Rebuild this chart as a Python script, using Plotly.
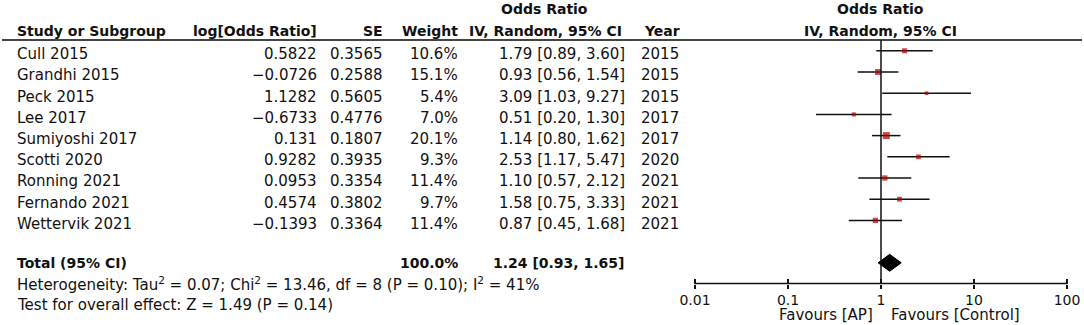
import plotly.graph_objects as go
import numpy as np

studies = ["Cull 2015", "Grandhi 2015", "Peck 2015", "Lee 2017", "Sumiyoshi 2017",
           "Scotti 2020", "Ronning 2021", "Fernando 2021", "Wettervik 2021"]
log_or = ["0.5822", "−0.0726", "1.1282", "−0.6733", "0.131", "0.9282", "0.0953", "0.4574", "−0.1393"]
se = ["0.3565", "0.2588", "0.5605", "0.4776", "0.1807", "0.3935", "0.3354", "0.3802", "0.3364"]
weight = [10.6, 15.1, 5.4, 7.0, 20.1, 9.3, 11.4, 9.7, 11.4]
odds = [1.79, 0.93, 3.09, 0.51, 1.14, 2.53, 1.10, 1.58, 0.87]
ci_lo = [0.89, 0.56, 1.03, 0.20, 0.80, 1.17, 0.57, 0.75, 0.45]
ci_hi = [3.60, 1.54, 9.27, 1.30, 1.62, 5.47, 2.12, 3.33, 1.68]
years = [2015, 2015, 2015, 2017, 2017, 2020, 2021, 2021, 2021]
total_or, total_lo, total_hi = 1.24, 0.93, 1.65
total_weight = "100.0%"
tick_vals = [0.01, 0.1, 1, 10, 100]
tick_text = ["0.01", "0.1", "1", "10", "100"]

W, H = 1084, 325
ROW0, DY = 50.8, 21.2          # pixel centre of first row, row spacing
def row_of(px):
    return (px - ROW0) / DY
# horizontal log scale: 0.01 sits at pixel 695, 93 px per decade
X001_PX, PX_DEC = 695, 93
def xval_of(px):
    return 10 ** (-2 + (px - X001_PX) / PX_DEC)
XRANGE = [-2 - X001_PX / PX_DEC, -2 + (W - X001_PX) / PX_DEC]

TOTAL_ROW = 10
TXT_OFF = 0.16                 # study-row text sits slightly below its CI line
FONT = "DejaVu Sans"
FS = 15
FSB = 14
TXT = "#111111"
RULE_PX = 40
AXIS_PX = 283.5

rows = list(range(len(studies)))

fig = go.Figure()

# header rule
fig.add_trace(go.Scatter(x=[xval_of(2), xval_of(1082)], y=[row_of(RULE_PX)] * 2, mode="lines",
                         line=dict(color="#444444", width=2), hoverinfo="skip", showlegend=False))
# forest-plot axis line (0.01 .. 100)
fig.add_trace(go.Scatter(x=[tick_vals[0], tick_vals[-1]], y=[row_of(AXIS_PX)] * 2, mode="lines",
                         line=dict(color="#111111", width=1.5), hoverinfo="skip", showlegend=False))
# CI lines
lx, ly = [], []
for r, lo, hi in zip(rows, ci_lo, ci_hi):
    lx += [lo, hi, None]
    ly += [r, r, None]
fig.add_trace(go.Scatter(x=lx, y=ly, mode="lines", line=dict(color="#111111", width=1.5),
                         hoverinfo="skip", showlegend=False))
# study squares
fig.add_trace(go.Scatter(x=odds, y=rows, mode="markers",
                         marker=dict(symbol="square", color="#b00000",
                                     size=[1.56 * np.sqrt(w) for w in weight], line=dict(width=0)),
                         showlegend=False))
# diamond
hh = 0.40
fig.add_trace(go.Scatter(x=[total_lo, total_or, total_hi, total_or, total_lo],
                         y=[TOTAL_ROW, TOTAL_ROW - hh, TOTAL_ROW, TOTAL_ROW + hh, TOTAL_ROW],
                         mode="lines", fill="toself", fillcolor="#000000",
                         line=dict(color="#000000", width=1), showlegend=False))
# invisible anchor for the overlay axis (inside ticks)
fig.add_trace(go.Scatter(x=[1], y=[0], xaxis="x2", mode="markers",
                         marker=dict(opacity=0), showlegend=False, hoverinfo="skip"))

axis_pos = 1 - AXIS_PX / H
common_x = dict(type="log", range=XRANGE, domain=[0, 1], anchor="free", position=axis_pos,
                showgrid=False, zeroline=False, showline=False,
                tickvals=tick_vals, tickcolor="#111111", tickwidth=1.5, automargin=False)
fig.update_layout(
    width=W, height=H, margin=dict(l=0, r=0, t=0, b=0, autoexpand=False),
    paper_bgcolor="white", plot_bgcolor="rgba(0,0,0,0)",
    font=dict(family=FONT, size=FS, color=TXT),
    xaxis=dict(**common_x, ticks="outside", ticklen=4, ticktext=tick_text,
               tickfont=dict(family=FONT, size=14, color=TXT)),
    xaxis2=dict(**common_x, overlaying="x", ticks="inside", ticklen=5, showticklabels=False),
    yaxis=dict(domain=[0, 1], range=[row_of(H), row_of(0)], visible=False, automargin=False),
    showlegend=False,
)

# vertical line of no effect
fig.add_shape(type="line", xref="x", yref="y", x0=1, x1=1, y0=row_of(RULE_PX), y1=row_of(AXIS_PX),
              line=dict(color="#111111", width=1.5))

def ann(text, px, row, anchor="right", bold=False):
    t = f"<b>{text}</b>" if bold else text
    fig.add_annotation(text=t, x=px / W, xref="paper", y=row, yref="y", xanchor=anchor,
                       yanchor="middle", showarrow=False,
                       font=dict(family=FONT, size=FSB if bold else FS, color=TXT))

# headers
ann("Study or Subgroup", 15, -0.95, "left", True)
ann("log[Odds Ratio]", 319, -0.95, "right", True)
ann("SE", 385, -0.95, "right", True)
ann("Weight", 460, -0.95, "right", True)
ann("Odds Ratio", 544, -1.95, "center", True)
ann("IV, Random, 95% CI", 545, -0.95, "center", True)
ann("Year", 682, -0.95, "right", True)
ann("Odds Ratio", 880, -1.95, "center", True)
ann("IV, Random, 95% CI", 880, -0.95, "center", True)

for r in rows:
    ty = r + TXT_OFF
    ann(studies[r], 15, ty, "left")
    ann(log_or[r], 319, ty)
    ann(se[r], 385, ty)
    ann(f"{weight[r]:.1f}%", 460, ty)
    ann(f"{odds[r]:.2f} [{ci_lo[r]:.2f}, {ci_hi[r]:.2f}]", 627, ty)
    ann(str(years[r]), 681, ty)

ann("Total (95% CI)", 15, TOTAL_ROW, "left", True)
ann(total_weight, 460, TOTAL_ROW, "right", True)
ann(f"{total_or:.2f} [{total_lo:.2f}, {total_hi:.2f}]", 627, TOTAL_ROW, "right", True)
ann("Heterogeneity: Tau<sup>2</sup> = 0.07; Chi<sup>2</sup> = 13.46, df = 8 (P = 0.10); I<sup>2</sup> = 41%",
    15, 11, "left")
ann("Test for overall effect: Z = 1.49 (P = 0.14)", 15, 12, "left")

# favours labels
fig.add_annotation(text="Favours [AP]", x=0, xref="x", xshift=-6, xanchor="right",
                   y=1 - 314.5 / H, yref="paper", yanchor="middle", showarrow=False,
                   font=dict(family=FONT, size=FS, color=TXT))
fig.add_annotation(text="Favours [Control]", x=0, xref="x", xshift=8, xanchor="left",
                   y=1 - 314.5 / H, yref="paper", yanchor="middle", showarrow=False,
                   font=dict(family=FONT, size=FS, color=TXT))

fig.write_html("out.html", config={"displayModeBar": False},
               post_script="document.body.style.margin='0';document.body.style.overflow='hidden';")
